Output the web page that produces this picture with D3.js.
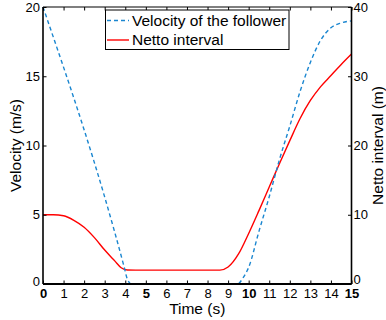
<!DOCTYPE html>
<html>
<head>
<meta charset="utf-8">
<script src="https://cdn.jsdelivr.net/npm/d3@7"></script>
<style>
  body { margin: 0; background: #fff; }
  text { font-family: Arial, "Liberation Sans", sans-serif; fill: #000; }
</style>
</head>
<body>
<svg id="chart" width="386" height="320"></svg>
<script>
// Values
const timeTicks = d3.range(0, 16);
const boldTicks = [0, 5, 10, 15];
const velocityTicks = [0, 5, 10, 15, 20];
const intervalTicks = [0, 10, 20, 30, 40];

const velocityT = [0, 3.95, 4.1, 4.3, 9.45, 9.75, 10, 10.5, 11, 11.5, 12, 12.5, 13, 13.5, 14, 14.5, 15];
const velocityV = [20, 1.2, 0.35, 0, 0, 0.5, 1.2, 3.8, 6.3, 9.0, 11.4, 13.9, 16.0, 17.6, 18.5, 18.85, 19.0];

const intervalT = [0, 0.5, 1, 1.5, 2, 2.5, 3, 3.5, 3.8, 4.1, 4.5, 8.6, 9, 9.5, 10, 10.5, 11, 11.5, 12, 12.5, 13, 13.5, 14, 14.5, 15];
const intervalV = [10, 10, 9.85, 9.2, 8.2, 6.7, 4.9, 3.3, 2.35, 2.02, 2, 2, 2.45, 4.3, 7.3, 10.6, 14.0, 17.4, 20.7, 23.9, 26.5, 28.5, 30.1, 31.7, 33.2];

const legendLabels = ['Velocity of the follower', 'Netto interval'];

// Layout (names avoid window.top)
const plotLeft = 43, plotRight = 351.5, plotTop = 7, plotBottom = 284;
const tickLen = 3.5;
const blue = '#1a86d0';
const red = '#ff0000';

const svg = d3.select('#chart');

const x = d3.scaleLinear().domain([0, 15]).range([plotLeft, plotRight]);
const yL = d3.scaleLinear().domain([0, 20]).range([plotBottom, plotTop]);
const yR = d3.scaleLinear().domain([0, 40]).range([plotBottom, plotTop]);

// Curves first, the box goes over them
const velocityLine = d3.line()
  .x(d => x(d[0]))
  .y(d => yL(d[1]))
  .curve(d3.curveMonotoneX);
const intervalLine = d3.line()
  .x(d => x(d[0]))
  .y(d => yR(d[1]))
  .curve(d3.curveMonotoneX);

svg.append('path')
  .attr('d', intervalLine(d3.zip(intervalT, intervalV)))
  .style('fill', 'none')
  .style('stroke', red)
  .style('stroke-width', 1.4);

svg.append('path')
  .attr('d', velocityLine(d3.zip(velocityT, velocityV)))
  .style('fill', 'none')
  .style('stroke', blue)
  .style('stroke-width', 1.4)
  .style('stroke-dasharray', '4,3');

// Axes, ticks point inward like matlab
const xAxis = svg.append('g')
  .attr('transform', `translate(0,${plotBottom})`)
  .call(d3.axisBottom(x).tickValues(timeTicks).tickSizeInner(-tickLen).tickSizeOuter(0).tickPadding(4.5));
const xTop = svg.append('g')
  .attr('transform', `translate(0,${plotTop})`)
  .call(d3.axisTop(x).tickValues(timeTicks).tickSizeInner(-tickLen).tickSizeOuter(0).tickFormat(''));
const yAxisL = svg.append('g')
  .attr('transform', `translate(${plotLeft},0)`)
  .call(d3.axisLeft(yL).tickValues(velocityTicks).tickSizeInner(-tickLen).tickSizeOuter(0).tickPadding(3));
const yAxisR = svg.append('g')
  .attr('transform', `translate(${plotRight},0)`)
  .call(d3.axisRight(yR).tickValues(intervalTicks).tickSizeInner(-tickLen).tickSizeOuter(0).tickPadding(2));

[xAxis, xTop, yAxisL, yAxisR].forEach(g => {
  g.select('.domain').remove();
  g.selectAll('line').style('stroke', '#000').style('stroke-width', 1);
  g.selectAll('text').style('font-size', '13px').style('font-family', 'Arial, "Liberation Sans", sans-serif');
});

xAxis.selectAll('text')
  .style('font-weight', d => boldTicks.includes(d) ? 'bold' : 'normal');

// Bottom zeros sit a little above the axis so they clear the x labels
yAxisL.selectAll('text').filter(d => d === 0).attr('dy', '0.1em');
yAxisR.selectAll('text').filter(d => d === 0).attr('dy', '-0.05em');

// Box
svg.append('line').attr('x1', plotLeft).attr('x2', plotRight).attr('y1', plotTop).attr('y2', plotTop)
  .style('stroke', '#000').style('stroke-width', 1.2);
svg.append('line').attr('x1', plotLeft).attr('x2', plotRight).attr('y1', plotBottom).attr('y2', plotBottom)
  .style('stroke', '#000').style('stroke-width', 2);
svg.append('line').attr('x1', plotLeft).attr('x2', plotLeft).attr('y1', plotTop).attr('y2', plotBottom)
  .style('stroke', '#000').style('stroke-width', 1.6);
svg.append('line').attr('x1', plotRight).attr('x2', plotRight).attr('y1', plotTop).attr('y2', plotBottom)
  .style('stroke', '#000').style('stroke-width', 1.6);

// Axis titles
svg.append('text')
  .attr('x', (plotLeft + plotRight) / 2)
  .attr('y', 313.5)
  .attr('text-anchor', 'middle')
  .style('font-size', '15.5px')
  .text('Time (s)');
svg.append('text')
  .attr('transform', `translate(21,${(plotTop + plotBottom) / 2}) rotate(-90)`)
  .attr('text-anchor', 'middle')
  .style('font-size', '15.5px')
  .text('Velocity (m/s)');
svg.append('text')
  .attr('transform', `translate(383,${(plotTop + plotBottom) / 2}) rotate(-90)`)
  .attr('text-anchor', 'middle')
  .style('font-size', '15.5px')
  .text('Netto interval (m)');

// Legend
const legend = svg.append('g');
legend.append('rect')
  .attr('x', 105.5)
  .attr('y', 10)
  .attr('width', 183.5)
  .attr('height', 39.5)
  .style('fill', '#fff')
  .style('stroke', '#000')
  .style('stroke-width', 1);

const rows = legend.selectAll('g.row')
  .data(legendLabels)
  .join('g')
  .classed('row', true)
  .attr('transform', (d, i) => `translate(0,${20.5 + i * 19.5})`);

rows.append('line')
  .attr('x1', 107)
  .attr('x2', 129)
  .style('stroke', (d, i) => i === 0 ? blue : red)
  .style('stroke-width', 1.4)
  .style('stroke-dasharray', (d, i) => i === 0 ? '4,3' : null);

rows.append('text')
  .attr('x', 132)
  .attr('dy', '0.35em')
  .style('font-size', '15.5px')
  .text(d => d);
</script>
</body>
</html>
